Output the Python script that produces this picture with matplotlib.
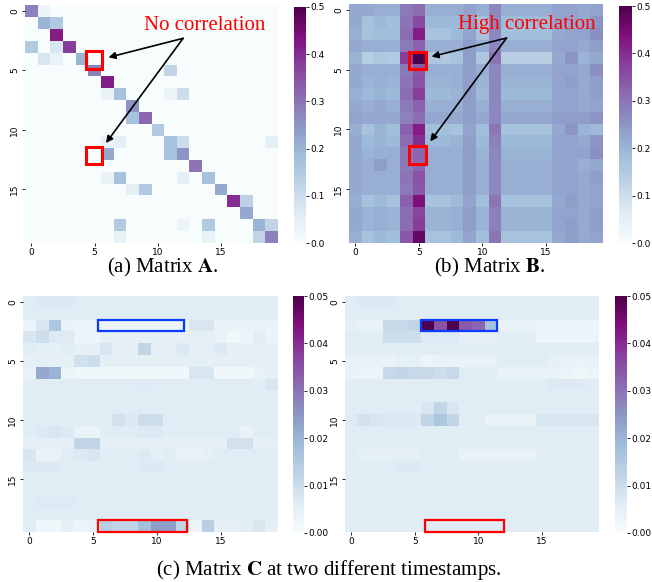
import numpy as np
import matplotlib
matplotlib.use("Agg")
import matplotlib.pyplot as plt
import seaborn as sns
from matplotlib.patches import Rectangle

plt.rcParams['mathtext.fontset'] = 'stix'

N = 20
tick_pos = [0, 5, 10, 15]
tick_labels = ["0", "5", "10", "15"]
cbar_ticks_ab = [0.0, 0.1, 0.2, 0.3, 0.4, 0.5]
cbar_ticks_c = [0.00, 0.01, 0.02, 0.03, 0.04, 0.05]

# Matrix A: sparse entries (row, col, value)
A_rows = [0, 0, 1, 1, 2, 3, 3, 3, 4, 4, 4, 5, 5, 6, 7, 7, 7, 7, 8, 9, 9, 10,
          11, 11, 11, 11, 11, 12, 12, 12, 13, 14, 14, 14, 14, 15, 15, 15, 16, 16,
          17, 18, 18, 18, 18, 18, 19, 19, 19, 19]
A_cols = [0, 1, 1, 2, 2, 0, 2, 3, 1, 2, 4, 5, 11, 6, 6, 7, 11, 12, 8, 8, 9, 10,
          6, 7, 11, 12, 19, 6, 11, 12, 13, 6, 7, 12, 14, 8, 9, 15, 16, 17,
          17, 7, 12, 14, 18, 19, 7, 14, 18, 19]
A_vals = [0.28, 0.03, 0.20, 0.15, 0.42, 0.15, 0.08, 0.38, 0.08, 0.04, 0.20, 0.28, 0.12, 0.42, 0.04, 0.17, 0.03, 0.10, 0.25, 0.17, 0.32, 0.15,
          0.04, 0.05, 0.17, 0.10, 0.05, 0.22, 0.17, 0.25, 0.30, 0.04, 0.17, 0.05, 0.17, 0.05, 0.15, 0.22, 0.40, 0.13,
          0.22, 0.15, 0.03, 0.15, 0.20, 0.12, 0.04, 0.04, 0.12, 0.28]

B = [
    [0.22,0.22,0.21,0.21,0.29,0.31,0.21,0.21,0.21,0.23,0.21,0.27,0.21,0.21,0.21,0.21,0.23,0.23,0.22,0.23],
    [0.22,0.17,0.19,0.18,0.30,0.36,0.19,0.19,0.19,0.23,0.18,0.27,0.19,0.19,0.19,0.19,0.23,0.23,0.22,0.25],
    [0.21,0.17,0.18,0.18,0.31,0.42,0.17,0.17,0.19,0.23,0.17,0.27,0.18,0.18,0.18,0.18,0.22,0.23,0.23,0.26],
    [0.22,0.21,0.21,0.21,0.29,0.33,0.21,0.21,0.21,0.24,0.21,0.27,0.21,0.21,0.21,0.21,0.23,0.23,0.22,0.24],
    [0.20,0.14,0.16,0.15,0.38,0.50,0.16,0.16,0.17,0.24,0.16,0.30,0.14,0.14,0.14,0.14,0.22,0.25,0.20,0.22],
    [0.22,0.21,0.21,0.21,0.29,0.34,0.21,0.21,0.21,0.24,0.21,0.27,0.21,0.21,0.21,0.21,0.23,0.23,0.22,0.26],
    [0.22,0.20,0.21,0.20,0.30,0.35,0.20,0.20,0.21,0.24,0.20,0.27,0.20,0.20,0.20,0.20,0.23,0.24,0.22,0.24],
    [0.21,0.19,0.20,0.19,0.31,0.38,0.19,0.19,0.20,0.24,0.19,0.27,0.19,0.19,0.19,0.19,0.23,0.23,0.22,0.24],
    [0.22,0.21,0.22,0.21,0.29,0.33,0.21,0.21,0.21,0.24,0.21,0.27,0.21,0.21,0.21,0.21,0.23,0.23,0.22,0.23],
    [0.23,0.22,0.22,0.22,0.28,0.31,0.22,0.22,0.22,0.24,0.22,0.27,0.22,0.22,0.22,0.22,0.24,0.24,0.24,0.25],
    [0.21,0.17,0.20,0.18,0.33,0.42,0.18,0.18,0.17,0.23,0.18,0.30,0.17,0.17,0.17,0.17,0.22,0.25,0.20,0.19],
    [0.22,0.19,0.20,0.19,0.31,0.40,0.19,0.19,0.20,0.24,0.19,0.28,0.19,0.19,0.19,0.19,0.23,0.23,0.22,0.25],
    [0.22,0.20,0.21,0.21,0.29,0.32,0.21,0.21,0.21,0.24,0.20,0.27,0.20,0.20,0.20,0.20,0.23,0.23,0.23,0.26],
    [0.22,0.21,0.24,0.21,0.29,0.32,0.21,0.21,0.21,0.24,0.21,0.27,0.21,0.21,0.21,0.21,0.23,0.23,0.21,0.22],
    [0.22,0.21,0.21,0.21,0.30,0.35,0.21,0.21,0.21,0.24,0.21,0.27,0.21,0.21,0.21,0.21,0.23,0.23,0.22,0.24],
    [0.22,0.21,0.21,0.21,0.29,0.34,0.21,0.21,0.21,0.24,0.21,0.27,0.21,0.21,0.21,0.21,0.23,0.23,0.22,0.23],
    [0.21,0.17,0.19,0.17,0.33,0.44,0.17,0.17,0.19,0.23,0.18,0.30,0.17,0.17,0.17,0.17,0.22,0.24,0.22,0.23],
    [0.22,0.20,0.21,0.20,0.31,0.37,0.20,0.20,0.21,0.24,0.20,0.28,0.20,0.20,0.20,0.20,0.23,0.23,0.22,0.24],
    [0.22,0.20,0.21,0.20,0.31,0.38,0.20,0.20,0.21,0.24,0.20,0.28,0.20,0.20,0.20,0.20,0.23,0.24,0.22,0.24],
    [0.21,0.17,0.19,0.18,0.34,0.47,0.17,0.17,0.19,0.23,0.18,0.30,0.17,0.17,0.17,0.17,0.22,0.24,0.22,0.23],
]

C1 = [
    [.006,.007,.007,.007,.006,.006,.006,.006,.006,.006,.006,.006,.006,.006,.006,.006,.006,.006,.006,.006],
    [.006,.006,.006,.006,.006,.006,.006,.006,.006,.006,.006,.006,.006,.006,.006,.006,.006,.006,.006,.006],
    [.003,.008,.016,.004,.003,.003,.003,.003,.003,.003,.003,.003,.003,.008,.008,.004,.004,.004,.004,.004],
    [.008,.010,.007,.007,.003,.003,.005,.005,.005,.005,.005,.005,.005,.005,.005,.004,.002,.003,.006,.003],
    [.006,.005,.005,.006,.005,.005,.008,.005,.005,.012,.005,.005,.007,.005,.005,.007,.005,.005,.005,.005],
    [.005,.005,.005,.005,.009,.010,.005,.005,.005,.005,.005,.005,.005,.005,.005,.005,.005,.005,.005,.005],
    [.004,.022,.020,.003,.002,.002,.002,.002,.002,.002,.002,.002,.002,.008,.008,.002,.002,.002,.004,.005],
    [.006,.006,.006,.006,.006,.006,.006,.006,.006,.007,.006,.006,.006,.006,.006,.006,.006,.006,.006,.008],
    [.006,.006,.006,.006,.006,.006,.006,.006,.006,.006,.006,.006,.006,.006,.006,.006,.006,.006,.006,.006],
    [.006,.006,.006,.006,.006,.006,.006,.006,.006,.006,.006,.006,.006,.006,.006,.006,.006,.006,.006,.006],
    [.006,.006,.006,.006,.006,.006,.006,.009,.007,.010,.010,.006,.006,.006,.006,.006,.006,.006,.006,.006],
    [.006,.007,.008,.007,.004,.004,.006,.006,.006,.007,.007,.006,.006,.006,.006,.006,.006,.004,.006,.006],
    [.005,.005,.005,.005,.012,.012,.005,.005,.005,.005,.005,.005,.005,.005,.005,.005,.009,.009,.005,.005],
    [.008,.004,.004,.006,.007,.008,.006,.006,.006,.007,.005,.006,.004,.004,.005,.006,.006,.006,.006,.006],
    [.007,.007,.007,.006,.006,.006,.006,.006,.006,.007,.007,.006,.006,.006,.006,.006,.006,.006,.006,.006],
    [.006,.006,.006,.006,.006,.006,.006,.006,.006,.006,.006,.006,.006,.006,.006,.006,.006,.006,.006,.006],
    [.006,.006,.006,.006,.006,.006,.006,.006,.006,.006,.006,.006,.006,.006,.006,.006,.006,.006,.006,.006],
    [.006,.007,.007,.007,.006,.006,.006,.006,.006,.006,.006,.006,.006,.006,.006,.006,.006,.006,.006,.006],
    [.006,.006,.006,.006,.006,.006,.006,.006,.006,.006,.006,.006,.006,.006,.006,.006,.006,.006,.006,.006],
    [.006,.002,.002,.005,.003,.004,.014,.012,.012,.018,.024,.024,.012,.003,.014,.005,.005,.006,.008,.005],
]

C2 = [
    [.006,.007,.007,.007,.006,.006,.006,.006,.006,.006,.006,.006,.006,.006,.006,.006,.006,.006,.006,.006],
    [.006,.006,.006,.006,.006,.006,.006,.006,.006,.006,.006,.006,.006,.006,.006,.006,.006,.006,.006,.006],
    [.005,.004,.004,.011,.011,.012,.050,.035,.050,.034,.032,.017,.004,.004,.004,.003,.003,.003,.003,.003],
    [.006,.006,.006,.010,.010,.010,.007,.007,.007,.005,.005,.005,.006,.006,.006,.003,.003,.003,.003,.003],
    [.006,.006,.006,.006,.006,.006,.006,.006,.006,.006,.006,.006,.006,.006,.006,.006,.006,.006,.006,.006],
    [.004,.004,.004,.004,.005,.005,.003,.004,.004,.004,.004,.004,.006,.006,.006,.006,.005,.004,.004,.004],
    [.004,.003,.003,.011,.012,.011,.011,.010,.011,.006,.006,.006,.004,.004,.004,.004,.004,.003,.002,.003],
    [.006,.006,.006,.006,.006,.006,.006,.006,.006,.006,.006,.006,.006,.006,.006,.006,.007,.007,.007,.006],
    [.006,.006,.006,.006,.006,.006,.006,.006,.006,.006,.006,.006,.006,.006,.006,.006,.006,.006,.006,.006],
    [.006,.006,.006,.006,.006,.006,.008,.012,.008,.006,.006,.006,.006,.006,.006,.006,.006,.006,.006,.006],
    [.007,.009,.008,.007,.007,.007,.012,.016,.012,.006,.006,.004,.004,.004,.004,.008,.008,.008,.008,.008],
    [.006,.006,.006,.006,.006,.006,.006,.006,.006,.006,.006,.006,.006,.006,.006,.006,.006,.006,.006,.006],
    [.006,.006,.006,.006,.006,.006,.006,.006,.006,.006,.006,.006,.006,.006,.006,.006,.006,.006,.006,.006],
    [.006,.005,.005,.005,.005,.005,.006,.006,.006,.004,.004,.004,.004,.004,.004,.006,.006,.006,.006,.006],
    [.006,.006,.006,.006,.007,.007,.006,.006,.006,.006,.006,.006,.006,.006,.006,.006,.006,.006,.006,.006],
    [.006,.006,.006,.006,.006,.006,.006,.006,.006,.006,.006,.006,.006,.006,.006,.006,.006,.006,.006,.006],
    [.006,.006,.006,.006,.006,.006,.006,.006,.006,.006,.006,.006,.006,.006,.006,.006,.006,.006,.006,.006],
    [.006,.006,.006,.006,.006,.006,.006,.006,.006,.006,.006,.006,.006,.006,.006,.006,.006,.006,.006,.006],
    [.006,.006,.006,.006,.006,.006,.006,.006,.006,.006,.006,.006,.006,.006,.006,.006,.006,.006,.006,.006],
    [.006,.006,.006,.006,.006,.006,.006,.006,.006,.006,.006,.006,.006,.006,.006,.006,.006,.006,.006,.006],
]

A = np.zeros((N, N))
for r, c, v in zip(A_rows, A_cols, A_vals):
    A[r, c] = v

W, H = 652, 582
fig = plt.figure(figsize=(W / 100, H / 100), dpi=100)


def fr(x0, y0, x1, y1):
    return [x0 / W, 1 - y1 / H, (x1 - x0) / W, (y1 - y0) / H]


panels = [
    (A, 0.5, cbar_ticks_ab, "%.1f", fr(25, 5, 278, 243), fr(294, 7, 306, 243)),
    (np.array(B), 0.5, cbar_ticks_ab, "%.1f", fr(349, 4, 603, 243), fr(619, 6, 632, 243)),
    (np.array(C1), 0.05, cbar_ticks_c, "%.2f", fr(23, 296, 278, 532), fr(293, 296, 304, 533)),
    (np.array(C2), 0.05, cbar_ticks_c, "%.2f", fr(345, 296, 599, 532), fr(615, 296, 627, 533)),
]

axes = []
for M, vmax, cticks, cfmt, apos, cpos in panels:
    ax = fig.add_axes(apos)
    cax = fig.add_axes(cpos)
    sns.heatmap(M, ax=ax, cbar_ax=cax, cmap="BuPu", vmin=0, vmax=vmax,
                xticklabels=False, yticklabels=False)
    ax.set_xticks([p + 0.5 for p in tick_pos])
    ax.set_xticklabels(tick_labels, fontsize=6.5, rotation=0)
    ax.set_yticks([p + 0.5 for p in tick_pos])
    ax.set_yticklabels(tick_labels, fontsize=6.5, rotation=90, va="center")
    ax.tick_params(length=2.5, width=0.6, pad=1.5)
    ax.tick_params(axis="x", pad=1)
    cax.set_yticks(cticks)
    cax.set_yticklabels([cfmt % t for t in cticks], fontsize=6.5)
    cax.tick_params(length=2, width=0.6, pad=1)
    axes.append(ax)

axA, axB, axC1, axC2 = axes

serif = "Liberation Serif"
arrow_kw = dict(arrowstyle="-|>", color="black", lw=1.2, mutation_scale=10,
                shrinkA=0, shrinkB=0)

# Panel A annotations
axA.text(14.2, 1.7, "No correlation", color="red", fontsize=15, family=serif,
         ha="center", va="center")
for tip in [(6.6, 4.4), (6.4, 11.6)]:
    axA.annotate("", xy=tip, xytext=(12.5, 2.8), arrowprops=arrow_kw)
for y0 in [3.9, 11.9]:
    axA.add_patch(Rectangle((4.8, y0), 1.25, 1.45, fill=False, ec="red", lw=2.2, clip_on=False))

# Panel B annotations
axB.text(14.0, 1.75, "High correlation", color="red", fontsize=15, family=serif,
         ha="center", va="center")
for tip in [(6.5, 4.4), (6.4, 11.5)]:
    axB.annotate("", xy=tip, xytext=(12.4, 2.85), arrowprops=arrow_kw)
for y0 in [4.0, 11.9]:
    axB.add_patch(Rectangle((4.75, y0), 1.35, 1.45, fill=False, ec="red", lw=2.2, clip_on=False))

# Panel C boxes
axC1.add_patch(Rectangle((5.85, 2.0), 6.8, 1.0, fill=False, ec="#0a3cff", lw=1.6, clip_on=False))
axC1.add_patch(Rectangle((5.85, 19.0), 7.05, 1.0, fill=False, ec="red", lw=1.6, clip_on=False))
axC2.add_patch(Rectangle((6.0, 2.0), 6.0, 1.0, fill=False, ec="#0a3cff", lw=1.6, clip_on=False))
axC2.add_patch(Rectangle((6.3, 19.0), 6.2, 1.0, fill=False, ec="red", lw=1.6, clip_on=False))

# Captions
fig.text(163 / W, 1 - 267 / H, r"(a) Matrix $\mathbf{A}$.", fontsize=15, family=serif,
         ha="center", va="center")
fig.text(490 / W, 1 - 267 / H, r"(b) Matrix $\mathbf{B}$.", fontsize=15, family=serif,
         ha="center", va="center")
fig.text(329 / W, 1 - 570 / H, r"(c) Matrix $\mathbf{C}$ at two different timestamps.",
         fontsize=15, family=serif, ha="center", va="center")

fig.savefig("out.png", dpi=100)
